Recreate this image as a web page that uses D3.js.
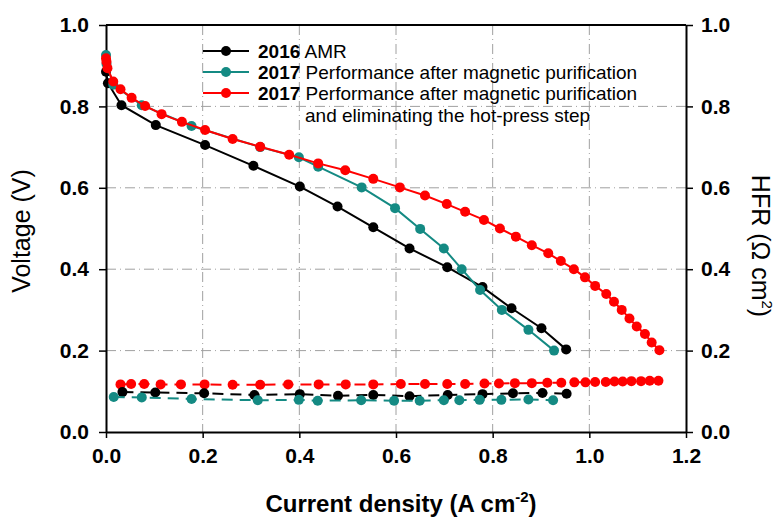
<!DOCTYPE html>
<html>
<head>
<meta charset="utf-8">
<script src="https://cdn.jsdelivr.net/npm/d3@7"></script>
<style>
  body { margin: 0; background: #fff; }
  svg { font-family: "Liberation Sans", Arial, sans-serif; }
</style>
</head>
<body>
<div class="container"></div>
<script>
// ===== DATA =====
// 2016 AMR
var amrVoltJ = [0, 0.004, 0.032, 0.103, 0.205, 0.305, 0.401, 0.479, 0.553, 0.628, 0.706, 0.779, 0.839, 0.901, 0.952];
var amrVolt  = [0.885, 0.857, 0.803, 0.754, 0.705, 0.654, 0.603, 0.554, 0.503, 0.451, 0.405, 0.356, 0.304, 0.255, 0.203];
var amrHfrJ  = [0.034, 0.102, 0.203, 0.307, 0.401, 0.48, 0.553, 0.628, 0.707, 0.779, 0.842, 0.903, 0.953];
var amrHfr   = [0.098, 0.097, 0.095, 0.091, 0.093, 0.089, 0.091, 0.088, 0.091, 0.093, 0.095, 0.096, 0.094];

// 2017 after magnetic purification
var magVoltJ = [0, 0.001, 0.015, 0.074, 0.177, 0.319, 0.399, 0.439, 0.529, 0.598, 0.65, 0.699, 0.736, 0.774, 0.819, 0.874, 0.927];
var magVolt  = [0.926, 0.905, 0.853, 0.803, 0.752, 0.7, 0.675, 0.652, 0.601, 0.55, 0.499, 0.451, 0.4, 0.349, 0.3, 0.251, 0.2];
var magHfrJ  = [0.016, 0.074, 0.177, 0.314, 0.399, 0.438, 0.528, 0.596, 0.649, 0.699, 0.731, 0.773, 0.818, 0.874, 0.925];
var magHfr   = [0.086, 0.085, 0.081, 0.078, 0.079, 0.077, 0.078, 0.077, 0.077, 0.078, 0.078, 0.079, 0.079, 0.08, 0.078];

// 2017 after magnetic purification + no hot-press
var hpVoltJ = [0, 0.001, 0.003, 0.015, 0.03, 0.053, 0.081, 0.115, 0.157, 0.205, 0.262, 0.319, 0.379, 0.439, 0.495, 0.553, 0.608, 0.66, 0.705, 0.743, 0.782, 0.815, 0.848, 0.881, 0.915, 0.941, 0.968, 0.991, 1.012, 1.035, 1.051, 1.067, 1.083, 1.098, 1.115, 1.129, 1.145];
var hpVolt  = [0.918, 0.91, 0.894, 0.861, 0.842, 0.821, 0.801, 0.781, 0.762, 0.742, 0.72, 0.701, 0.681, 0.66, 0.643, 0.622, 0.601, 0.581, 0.56, 0.541, 0.521, 0.5, 0.48, 0.459, 0.439, 0.42, 0.4, 0.38, 0.359, 0.339, 0.32, 0.3, 0.279, 0.259, 0.241, 0.22, 0.201];
var hpHfrJ  = [0.03, 0.052, 0.079, 0.113, 0.155, 0.204, 0.262, 0.319, 0.377, 0.44, 0.496, 0.553, 0.61, 0.66, 0.706, 0.743, 0.783, 0.813, 0.846, 0.881, 0.913, 0.942, 0.969, 0.992, 1.012, 1.034, 1.052, 1.069, 1.087, 1.107, 1.125, 1.143];
var hpHfr   = [0.117, 0.118, 0.118, 0.117, 0.117, 0.117, 0.116, 0.116, 0.117, 0.117, 0.117, 0.117, 0.118, 0.118, 0.118, 0.118, 0.119, 0.119, 0.12, 0.12, 0.121, 0.121, 0.122, 0.122, 0.123, 0.123, 0.124, 0.124, 0.125, 0.125, 0.126, 0.126];

var xTicks = [0, 0.2, 0.4, 0.6, 0.8, 1.0, 1.2];
var yTicks = [0, 0.2, 0.4, 0.6, 0.8, 1.0];

var legendLabels = [
  {year: '2016', text: 'AMR'},
  {year: '2017', text: 'Performance after magnetic purification'},
  {year: '2017', text: 'Performance after magnetic purification'}
];
var legendExtra = 'and eliminating the hot-press step';

// ===== SET UP CHART =====
var W = 780, H = 518;
var margin = {top: 25, right: 94, bottom: 86, left: 106};
var width = W - margin.left - margin.right,
    height = H - margin.top - margin.bottom;

var colors = {amr: '#000000', mag: '#148a83', hp: '#ff0000'};

var svg = d3.select('.container')
  .append('svg')
  .attr('width', W)
  .attr('height', H);

svg.append('rect').attr('width', W).attr('height', H).attr('fill', '#fff');

var g = svg.append('g')
  .attr('transform', 'translate(' + margin.left + ',' + margin.top + ')');

var xScale = d3.scaleLinear().domain([0, 1.2]).range([0, width]);
var yScale = d3.scaleLinear().domain([0, 1]).range([height, 0]);
var hfrScale = d3.scaleLinear().domain([0, 1]).range([height, 0]);

// grid
g.append('g').selectAll('line')
  .data(xTicks.filter(function(d) { return d > 0 && d < 1.2; }))
  .enter().append('line')
  .attr('x1', function(d) { return xScale(d); })
  .attr('x2', function(d) { return xScale(d); })
  .attr('y1', 0).attr('y2', height)
  .attr('stroke', '#a0a0a0')
  .attr('stroke-width', 1)
  .attr('stroke-dasharray', '10,4,1,4');

g.append('g').selectAll('line')
  .data(yTicks.filter(function(d) { return d > 0 && d < 1; }))
  .enter().append('line')
  .attr('x1', 0).attr('x2', width)
  .attr('y1', function(d) { return yScale(d); })
  .attr('y2', function(d) { return yScale(d); })
  .attr('stroke', '#a0a0a0')
  .attr('stroke-width', 1)
  .attr('stroke-dasharray', '10,4,1,4');

// axes
function styleAxis(sel) {
  sel.selectAll('.domain').attr('stroke', '#000').attr('stroke-width', 2);
  sel.selectAll('.tick line').attr('stroke', '#000').attr('stroke-width', 1.5);
  sel.selectAll('.tick text')
    .attr('fill', '#000')
    .style('font-size', '21px')
    .style('font-weight', 'bold')
    .style('font-family', '"Liberation Sans", Arial, sans-serif');
}

var xAxis = d3.axisBottom(xScale).tickValues(xTicks).tickFormat(d3.format('.1f')).tickSize(6).tickSizeOuter(0).tickPadding(10);
var yAxis = d3.axisLeft(yScale).tickValues(yTicks).tickFormat(d3.format('.1f')).tickSize(7).tickSizeOuter(0).tickPadding(10);
var hAxis = d3.axisRight(hfrScale).tickValues(yTicks).tickFormat(d3.format('.1f')).tickSize(7).tickSizeOuter(0).tickPadding(8);

g.append('line').attr('x1', 0).attr('x2', width).attr('y1', 0).attr('y2', 0)
  .attr('stroke', '#000').attr('stroke-width', 2);

g.append('g').attr('transform', 'translate(0,' + height + ')').call(xAxis).call(styleAxis);
g.append('g').call(yAxis).call(styleAxis);
g.append('g').attr('transform', 'translate(' + width + ',0)').call(hAxis).call(styleAxis);

// series
function drawSeries(xs, ys, scale, color, dashed) {
  var pts = xs.map(function(x, i) { return [x, ys[i]]; });
  var line = d3.line()
    .x(function(d) { return xScale(d[0]); })
    .y(function(d) { return scale(d[1]); });
  g.append('path')
    .datum(pts)
    .attr('d', line)
    .attr('fill', 'none')
    .attr('stroke', color)
    .attr('stroke-width', 2)
    .attr('stroke-dasharray', dashed ? '11,7' : null);
  g.append('g').selectAll('circle')
    .data(pts)
    .enter().append('circle')
    .attr('cx', function(d) { return xScale(d[0]); })
    .attr('cy', function(d) { return scale(d[1]); })
    .attr('r', 5)
    .attr('fill', color);
}

drawSeries(hpHfrJ, hpHfr, hfrScale, colors.hp, true);
drawSeries(amrHfrJ, amrHfr, hfrScale, colors.amr, true);
drawSeries(magHfrJ, magHfr, hfrScale, colors.mag, true);

drawSeries(amrVoltJ, amrVolt, yScale, colors.amr, false);
drawSeries(magVoltJ, magVolt, yScale, colors.mag, false);
drawSeries(hpVoltJ, hpVolt, yScale, colors.hp, false);

// ===== LEGEND =====
var legendColors = [colors.amr, colors.mag, colors.hp];
var legend = svg.append('g');
var rowY = [51, 72, 93];

legendLabels.forEach(function(d, i) {
  var y = rowY[i];
  legend.append('line')
    .attr('x1', 203).attr('x2', 249).attr('y1', y).attr('y2', y)
    .attr('stroke', legendColors[i]).attr('stroke-width', 2);
  legend.append('circle')
    .attr('cx', 226).attr('cy', y).attr('r', 5)
    .attr('fill', legendColors[i]);
  var t = legend.append('text')
    .attr('x', 258).attr('y', y + 6.5)
    .style('font-size', '19px')
    .attr('fill', '#000');
  t.append('tspan').style('font-weight', 'bold').text(d.year);
  t.append('tspan').text(' ' + d.text);
});

legend.append('text')
  .attr('x', 305).attr('y', 122)
  .style('font-size', '19px')
  .attr('fill', '#000')
  .text(legendExtra);

// ===== LABELS =====
var xt = svg.append('text')
  .attr('x', margin.left + width / 2 + 5)
  .attr('y', 512)
  .style('text-anchor', 'middle')
  .style('font-size', '24px')
  .style('font-weight', 'bold')
  .attr('fill', '#000');
xt.append('tspan').text('Current density (A cm');
xt.append('tspan').attr('dy', -10).style('font-size', '15px').text('-2');
xt.append('tspan').attr('dy', 10).text(')');

svg.append('text')
  .attr('transform', 'translate(30,231) rotate(-90)')
  .style('text-anchor', 'middle')
  .style('font-size', '25px')
  .attr('fill', '#000')
  .text('Voltage (V)');

var ht = svg.append('text')
  .attr('transform', 'translate(752,246) rotate(90)')
  .style('text-anchor', 'middle')
  .style('font-size', '25px')
  .attr('fill', '#000');
ht.append('tspan').text('HFR (\u03A9 cm');
ht.append('tspan').attr('dy', -10).style('font-size', '15px').text('2');
ht.append('tspan').attr('dy', 10).text(')');
</script>
</body>
</html>
